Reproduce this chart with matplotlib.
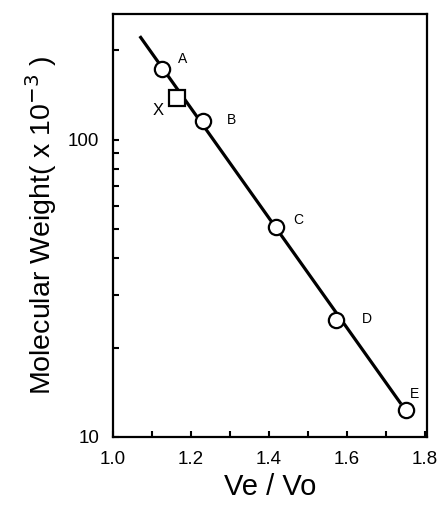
import matplotlib
matplotlib.use('Agg')
import matplotlib.pyplot as plt
from matplotlib.ticker import MultipleLocator, LogLocator, NullFormatter, FixedLocator

plt.rcParams['font.family'] = ['Liberation Sans', 'DejaVu Sans']

# 표준 단백질 (원)
std_names = ['A', 'B', 'C', 'D', 'E']
std_ve_vo = [1.125, 1.232, 1.418, 1.572, 1.751]
std_mw = [173, 116, 50.7, 24.8, 12.3]

# 라벨 위치
label_x = [1.179, 1.303, 1.474, 1.650, 1.774]
label_y = [187, 117, 53.8, 24.9, 14.0]

# 미지 시료 X (사각형)
x_ve_vo = [1.163]
x_mw = [138]
x_label_pos = (1.115, 125)

# 회귀 직선 끝점
fit_ve_vo = [1.071, 1.736]
fit_mw = [221, 13.05]

fig = plt.figure(figsize=(4.39, 5.05), dpi=100)
ax = fig.add_axes([0.2574, 0.1347, 0.7153, 0.8376])

ax.plot(fit_ve_vo, fit_mw, color='black', linewidth=2.3, zorder=2)
ax.plot(std_ve_vo, std_mw, 'o', markersize=11, markerfacecolor='white',
        markeredgecolor='black', markeredgewidth=1.6, zorder=3)
ax.plot(x_ve_vo, x_mw, 's', markersize=11, markerfacecolor='white',
        markeredgecolor='black', markeredgewidth=1.6, zorder=3)

for name, lx, ly in zip(std_names, label_x, label_y):
    ax.text(lx, ly, name, fontsize=10, ha='center', va='center')
ax.text(x_label_pos[0], x_label_pos[1], 'X', fontsize=12, ha='center', va='center')

ax.set_yscale('log')
ax.set_xlim(1.0, 1.805)
ax.set_ylim(10, 265)

ax.xaxis.set_major_locator(MultipleLocator(0.2))
ax.xaxis.set_minor_locator(MultipleLocator(0.1))
ax.xaxis.set_major_formatter(plt.FuncFormatter(lambda v, p: f'{v:.1f}'))
ax.yaxis.set_major_locator(FixedLocator([10, 100]))
ax.yaxis.set_major_formatter(plt.FuncFormatter(lambda v, p: f'{int(v)}'))
ax.yaxis.set_minor_locator(LogLocator(base=10, subs=range(2, 10)))
ax.yaxis.set_minor_formatter(NullFormatter())

ax.tick_params(which='both', direction='in', length=4, width=1.5,
               top=False, right=False, labelsize=13.5, pad=10)

for sp in ax.spines.values():
    sp.set_linewidth(1.6)

ax.set_xlabel('Ve / Vo', fontsize=21, labelpad=4)
ax.set_ylabel('Molecular Weight( x 10$^{-3}$ )', fontsize=20.5, labelpad=6)

fig.savefig('out.png', dpi=100)
